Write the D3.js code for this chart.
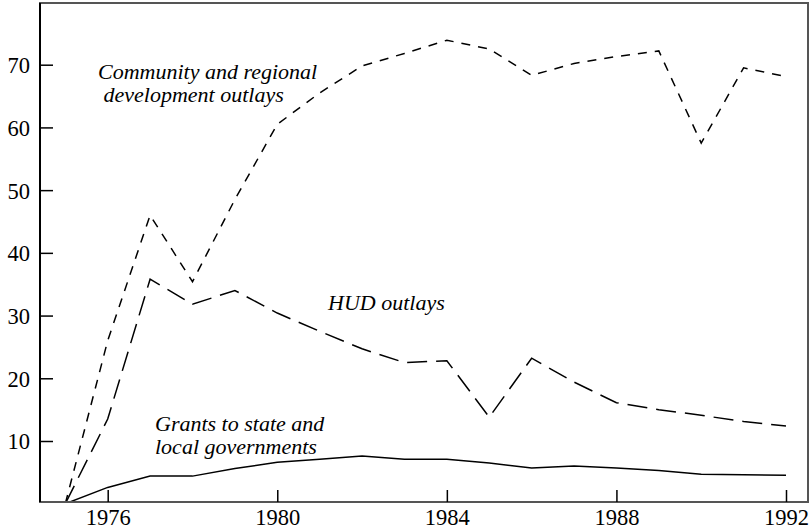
<!DOCTYPE html>
<html><head><meta charset="utf-8">
<script src="https://cdn.jsdelivr.net/npm/d3@7"></script>
<style>body{margin:0;background:#fff}svg{display:block}</style>
</head><body>
<svg id="c" width="810" height="530"></svg>
<script>
const years = [1975,1976,1977,1978,1979,1980,1981,1982,1983,1984,1985,1986,1987,1988,1989,1990,1991,1992];
const community = [0,26,46,35.4,48.5,60.5,65.5,69.8,71.8,73.9,72.5,68.3,70.2,71.3,72.2,57.5,69.5,68.1];
const hud = [0,13.5,35.8,31.8,34.0,30.4,27.5,24.7,22.5,22.8,13.8,23.2,19.4,16.1,15.0,14.1,13.1,12.4];
const grants = [0,2.6,4.4,4.4,5.6,6.6,7.1,7.6,7.1,7.1,6.5,5.7,6.0,5.7,5.3,4.7,4.6,4.55];
const xTicks = [1976,1980,1984,1988,1992];
const yTicks = [10,20,30,40,50,60,70];
const labels = [
  {lines:["Community and regional"," development outlays"], x:98, y:79},
  {lines:["HUD outlays"], x:328, y:310},
  {lines:["Grants to state and","local governments"], x:155, y:431}
];

const svg = d3.select("#c");
const L=40, R=808, T=3, B=502;
const x = d3.scaleLinear().domain([1976,1992]).range([107.7,786]);
const y = d3.scaleLinear().domain([10,70]).range([441,64.7]);
const font = "'Liberation Serif','Times New Roman',serif";

svg.append("clipPath").attr("id","clip").append("rect")
  .attr("x",L).attr("y",T).attr("width",R-L).attr("height",B-T);

const line = d3.line().x((d,i)=>x(years[i])).y(d=>y(d));
const g = svg.append("g").attr("clip-path","url(#clip)");
g.append("path").datum(community).attr("d",line).attr("fill","none")
  .attr("stroke","#000").attr("stroke-width",1.5).attr("stroke-dasharray","9,8");
g.append("path").datum(hud).attr("d",line).attr("fill","none")
  .attr("stroke","#000").attr("stroke-width",1.5).attr("stroke-dasharray","20,9");
g.append("path").datum(grants).attr("d",line).attr("fill","none")
  .attr("stroke","#000").attr("stroke-width",1.5);

// frame
svg.append("rect").attr("x",L).attr("y",T).attr("width",R-L).attr("height",B-T)
  .attr("fill","none").attr("stroke","#555").attr("stroke-width",2);
svg.append("line").attr("x1",L).attr("x2",L).attr("y1",T).attr("y2",B)
  .attr("stroke","#000").attr("stroke-width",2);

// y axis
const ya = svg.append("g").attr("transform",`translate(${L},0)`)
  .call(d3.axisRight(y).tickValues(yTicks).tickSize(13).tickSizeOuter(0).tickFormat(d3.format("d")));
ya.select(".domain").remove();
ya.selectAll(".tick line").attr("stroke","#000").attr("stroke-width",1.5);
ya.selectAll(".tick text").attr("x",-10).attr("dy","0.35em").attr("text-anchor","end")
  .style("font-family",font).style("font-size","22.5px").attr("fill","#000");

// x axis
const xa = svg.append("g").attr("transform",`translate(0,${B})`)
  .call(d3.axisTop(x).tickValues(xTicks).tickSize(12).tickSizeOuter(0).tickFormat(d3.format("d")));
xa.select(".domain").remove();
xa.selectAll(".tick line").attr("stroke","#000").attr("stroke-width",1.5);
xa.selectAll(".tick text").attr("y",23).attr("dy",0).attr("text-anchor","middle")
  .style("font-family",font).style("font-size","22.5px").attr("fill","#000");

// labels
labels.forEach(l=>{
  const t = svg.append("text").attr("x",l.x).attr("y",l.y)
    .style("font-family",font).style("font-size","22px").style("font-style","italic")
    .attr("fill","#000").attr("xml:space","preserve");
  l.lines.forEach((s,i)=>t.append("tspan").attr("x",l.x).attr("dy",i?23:0).text(s));
});
</script>
</body></html>
